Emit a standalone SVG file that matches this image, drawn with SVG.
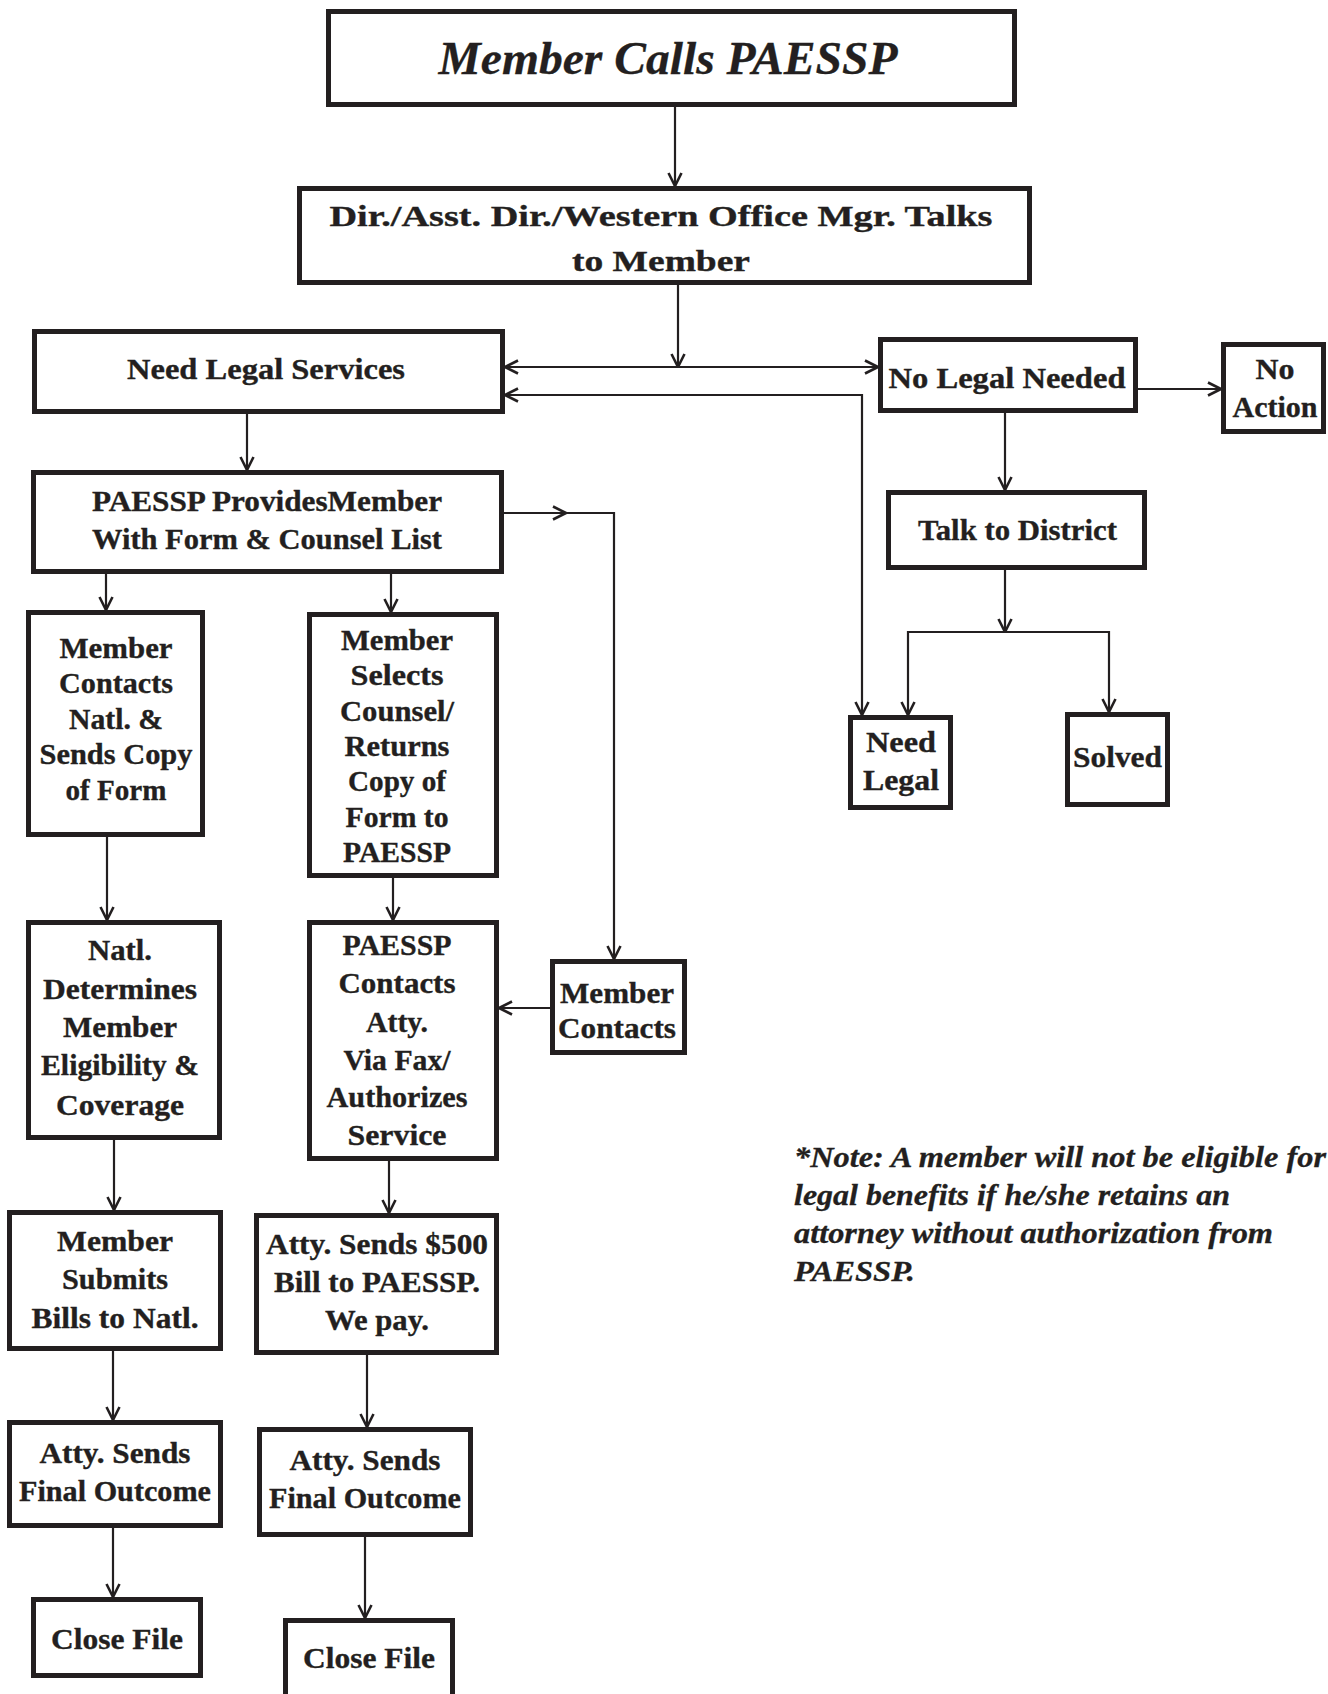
<svg xmlns="http://www.w3.org/2000/svg" width="1328" height="1694" viewBox="0 0 1328 1694">
<style>
.box{fill:#fff;stroke:#231f20;stroke-width:5}
.t{font-family:"Liberation Serif","Times New Roman",serif;font-weight:bold;fill:#231f20;stroke:#231f20;stroke-width:0.35;text-anchor:middle;font-size:30px}
.ti{font-family:"Liberation Serif","Times New Roman",serif;font-weight:bold;font-style:italic;fill:#231f20;stroke:#231f20;stroke-width:0.3}
.c{fill:none;stroke:#231f20;stroke-width:2.2}
</style>
<defs>
<marker id="ah" viewBox="0 0 16 16" refX="15" refY="8" markerWidth="16" markerHeight="16" markerUnits="userSpaceOnUse" orient="auto-start-reverse">
<path d="M2,1.5 L15,8 L2,14.5" fill="none" stroke="#231f20" stroke-width="2.6"/>
</marker>
</defs>
<rect width="1328" height="1694" fill="#fff"/>

<g id="connectors">
<path class="c" d="M675,107 V186" marker-end="url(#ah)"/>
<path class="c" d="M678,285 V367" marker-end="url(#ah)"/>
<path class="c" d="M505,367 H878" marker-start="url(#ah)" marker-end="url(#ah)"/>
<path class="c" d="M505,395 H862 V715" marker-start="url(#ah)" marker-end="url(#ah)"/>
<path class="c" d="M1138,389 H1221" marker-end="url(#ah)"/>
<path class="c" d="M1005,413 V490" marker-end="url(#ah)"/>
<path class="c" d="M1005,570 V632" marker-end="url(#ah)"/>
<path class="c" d="M908,715 V632 H1109 V712" marker-start="url(#ah)" marker-end="url(#ah)"/>
<path class="c" d="M247,414 V470" marker-end="url(#ah)"/>
<path class="c" d="M504,513 H566" marker-end="url(#ah)"/>
<path class="c" d="M564,513 H614 V959" marker-end="url(#ah)"/>
<path class="c" d="M106,574 V610" marker-end="url(#ah)"/>
<path class="c" d="M391,574 V612" marker-end="url(#ah)"/>
<path class="c" d="M107,837 V920" marker-end="url(#ah)"/>
<path class="c" d="M393,878 V920" marker-end="url(#ah)"/>
<path class="c" d="M550,1008 H499" marker-end="url(#ah)"/>
<path class="c" d="M114,1140 V1210" marker-end="url(#ah)"/>
<path class="c" d="M389,1161 V1213" marker-end="url(#ah)"/>
<path class="c" d="M113,1351 V1420" marker-end="url(#ah)"/>
<path class="c" d="M367,1355 V1427" marker-end="url(#ah)"/>
<path class="c" d="M113,1528 V1597" marker-end="url(#ah)"/>
<path class="c" d="M365,1537 V1618" marker-end="url(#ah)"/>
</g>

<g id="n_calls">
<rect class="box" x="328.5" y="11.5" width="686" height="93"/>
<text class="ti" x="668" y="74" font-size="47" text-anchor="middle" textLength="459" lengthAdjust="spacingAndGlyphs">Member Calls PAESSP</text>
</g>
<g id="n_dir">
<rect class="box" x="299.5" y="188.5" width="730" height="94"/>
<text class="t" x="661" y="226" font-size="38" textLength="663" lengthAdjust="spacingAndGlyphs">Dir./Asst. Dir./Western Office Mgr. Talks</text>
<text class="t" x="661" y="271" font-size="38" textLength="178" lengthAdjust="spacingAndGlyphs">to Member</text>
</g>
<g id="n_needlegalsvc">
<rect class="box" x="34.5" y="331.5" width="468" height="80"/>
<text class="t" x="266" y="379" font-size="33" textLength="278" lengthAdjust="spacingAndGlyphs">Need Legal Services</text>
</g>
<g id="n_nolegal">
<rect class="box" x="880.5" y="339.5" width="255" height="71"/>
<text class="t" x="1007" y="388" font-size="33" textLength="237" lengthAdjust="spacingAndGlyphs">No Legal Needed</text>
</g>
<g id="n_noaction">
<rect class="box" x="1223.5" y="344.5" width="100" height="87"/>
<text class="t" x="1275" y="379" font-size="32" textLength="39" lengthAdjust="spacingAndGlyphs">No</text>
<text class="t" x="1275" y="417" font-size="32" textLength="85" lengthAdjust="spacingAndGlyphs">Action</text>
</g>
<g id="n_talk">
<rect class="box" x="888.5" y="492.5" width="256" height="75"/>
<text class="t" x="1017.5" y="540" font-size="33" textLength="199" lengthAdjust="spacingAndGlyphs">Talk to District</text>
</g>
<g id="n_needlegal">
<rect class="box" x="850.5" y="717.5" width="100" height="90"/>
<text class="t" x="901" y="752" font-size="32" textLength="70" lengthAdjust="spacingAndGlyphs">Need</text>
<text class="t" x="901" y="790" font-size="32" textLength="76" lengthAdjust="spacingAndGlyphs">Legal</text>
</g>
<g id="n_solved">
<rect class="box" x="1067.5" y="714.5" width="100" height="90"/>
<text class="t" x="1117.5" y="767" font-size="32" textLength="89" lengthAdjust="spacingAndGlyphs">Solved</text>
</g>
<g id="n_provides">
<rect class="box" x="33.5" y="472.5" width="468" height="99"/>
<text class="t" x="267" y="511" font-size="31" textLength="350" lengthAdjust="spacingAndGlyphs">PAESSP ProvidesMember</text>
<text class="t" x="267" y="549" font-size="31" textLength="350" lengthAdjust="spacingAndGlyphs">With Form &amp; Counsel List</text>
</g>
<g id="n_contactsnatl">
<rect class="box" x="28.5" y="612.5" width="174" height="222"/>
<text class="t" x="116" y="658" font-size="28" textLength="113" lengthAdjust="spacingAndGlyphs">Member</text>
<text class="t" x="116" y="693" font-size="28" textLength="114" lengthAdjust="spacingAndGlyphs">Contacts</text>
<text class="t" x="116" y="729" font-size="28" textLength="94" lengthAdjust="spacingAndGlyphs">Natl. &amp;</text>
<text class="t" x="116" y="764" font-size="28" textLength="153" lengthAdjust="spacingAndGlyphs">Sends Copy</text>
<text class="t" x="116" y="800" font-size="28" textLength="101" lengthAdjust="spacingAndGlyphs">of Form</text>
</g>
<g id="n_selects">
<rect class="box" x="309.5" y="614.5" width="187" height="261"/>
<text class="t" x="397" y="650" font-size="28" textLength="112" lengthAdjust="spacingAndGlyphs">Member</text>
<text class="t" x="397" y="685" font-size="28" textLength="93" lengthAdjust="spacingAndGlyphs">Selects</text>
<text class="t" x="397" y="721" font-size="28" textLength="114" lengthAdjust="spacingAndGlyphs">Counsel/</text>
<text class="t" x="397" y="756" font-size="28" textLength="105" lengthAdjust="spacingAndGlyphs">Returns</text>
<text class="t" x="397" y="791" font-size="28" textLength="98" lengthAdjust="spacingAndGlyphs">Copy of</text>
<text class="t" x="397" y="827" font-size="28" textLength="103" lengthAdjust="spacingAndGlyphs">Form to</text>
<text class="t" x="397" y="862" font-size="28" textLength="108" lengthAdjust="spacingAndGlyphs">PAESSP</text>
</g>
<g id="n_determines">
<rect class="box" x="28.5" y="922.5" width="191" height="215"/>
<text class="t" x="120" y="960" textLength="64" lengthAdjust="spacingAndGlyphs">Natl.</text>
<text class="t" x="120" y="999" textLength="154" lengthAdjust="spacingAndGlyphs">Determines</text>
<text class="t" x="120" y="1037" textLength="114" lengthAdjust="spacingAndGlyphs">Member</text>
<text class="t" x="120" y="1075" textLength="158" lengthAdjust="spacingAndGlyphs">Eligibility &amp;</text>
<text class="t" x="120" y="1115" textLength="128" lengthAdjust="spacingAndGlyphs">Coverage</text>
</g>
<g id="n_paesspcontacts">
<rect class="box" x="309.5" y="922.5" width="187" height="236"/>
<text class="t" x="397" y="955" textLength="109" lengthAdjust="spacingAndGlyphs">PAESSP</text>
<text class="t" x="397" y="993" textLength="117" lengthAdjust="spacingAndGlyphs">Contacts</text>
<text class="t" x="397" y="1032" textLength="62" lengthAdjust="spacingAndGlyphs">Atty.</text>
<text class="t" x="397" y="1070" textLength="107" lengthAdjust="spacingAndGlyphs">Via Fax/</text>
<text class="t" x="397" y="1107" textLength="141" lengthAdjust="spacingAndGlyphs">Authorizes</text>
<text class="t" x="397" y="1145" textLength="99" lengthAdjust="spacingAndGlyphs">Service</text>
</g>
<g id="n_membercontacts">
<rect class="box" x="552.5" y="961.5" width="132" height="91"/>
<text class="t" x="617" y="1003" font-size="32" textLength="114" lengthAdjust="spacingAndGlyphs">Member</text>
<text class="t" x="617" y="1038" font-size="32" textLength="118" lengthAdjust="spacingAndGlyphs">Contacts</text>
</g>
<g id="n_submits">
<rect class="box" x="9.5" y="1212.5" width="211" height="136"/>
<text class="t" x="115" y="1251" textLength="116" lengthAdjust="spacingAndGlyphs">Member</text>
<text class="t" x="115" y="1289" textLength="106" lengthAdjust="spacingAndGlyphs">Submits</text>
<text class="t" x="115" y="1328" textLength="167" lengthAdjust="spacingAndGlyphs">Bills to Natl.</text>
</g>
<g id="n_atty500">
<rect class="box" x="256.5" y="1215.5" width="240" height="137"/>
<text class="t" x="377" y="1254" textLength="222" lengthAdjust="spacingAndGlyphs">Atty. Sends $500</text>
<text class="t" x="377" y="1292" textLength="206" lengthAdjust="spacingAndGlyphs">Bill to PAESSP.</text>
<text class="t" x="377" y="1330" textLength="104" lengthAdjust="spacingAndGlyphs">We pay.</text>
</g>
<g id="n_finalL">
<rect class="box" x="9.5" y="1422.5" width="211" height="103"/>
<text class="t" x="115" y="1463" textLength="151" lengthAdjust="spacingAndGlyphs">Atty. Sends</text>
<text class="t" x="115" y="1501" textLength="192" lengthAdjust="spacingAndGlyphs">Final Outcome</text>
</g>
<g id="n_finalR">
<rect class="box" x="259.5" y="1429.5" width="211" height="105"/>
<text class="t" x="365" y="1470" textLength="151" lengthAdjust="spacingAndGlyphs">Atty. Sends</text>
<text class="t" x="365" y="1508" textLength="192" lengthAdjust="spacingAndGlyphs">Final Outcome</text>
</g>
<g id="n_closeL">
<rect class="box" x="33.5" y="1599.5" width="167" height="76"/>
<text class="t" x="117" y="1649" font-size="34" textLength="132" lengthAdjust="spacingAndGlyphs">Close File</text>
</g>
<g id="n_closeR">
<rect class="box" x="285.5" y="1620.5" width="167" height="85"/>
<text class="t" x="369" y="1668" font-size="34" textLength="132" lengthAdjust="spacingAndGlyphs">Close File</text>
</g>

<g id="note">
<text class="ti" x="794" y="1167" font-size="29" textLength="532" lengthAdjust="spacingAndGlyphs">*Note: A member will not be eligible for</text>
<text class="ti" x="794" y="1205" font-size="29" textLength="436" lengthAdjust="spacingAndGlyphs">legal benefits if he/she retains an</text>
<text class="ti" x="794" y="1243" font-size="29" textLength="479" lengthAdjust="spacingAndGlyphs">attorney without authorization from</text>
<text class="ti" x="794" y="1281" font-size="29" textLength="121" lengthAdjust="spacingAndGlyphs">PAESSP.</text>
</g>
</svg>
